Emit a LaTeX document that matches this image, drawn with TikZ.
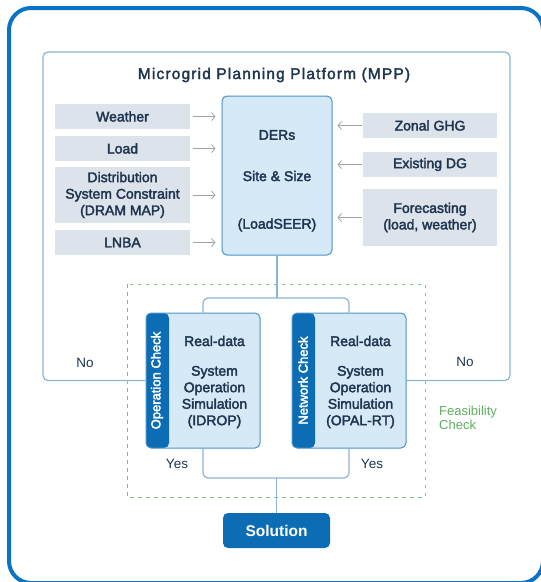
\documentclass[tikz,border=0pt]{standalone}
\usepackage{fontspec}
\setmainfont{Liberation Sans}
\newfontfamily\titlefont[LetterSpace=7.5]{Liberation Sans}
\usetikzlibrary{arrows.meta}

% medium-weight look: fill and outline the glyphs
\newcommand\thickon{\special{pdf:literal direct q 2 Tr 0.35 w}}
\newcommand\thickoff{\special{pdf:literal direct Q}}

\definecolor{frameblue}{HTML}{0A73C6}
\definecolor{navy}{HTML}{1E3550}
\definecolor{greybox}{HTML}{DDE3EA}
\definecolor{paleblue}{HTML}{D5E9F7}
\definecolor{edgeblue}{HTML}{4B92C9}
\definecolor{stripblue}{HTML}{0C6DB4}
\definecolor{linkblue}{HTML}{8CB4D5}
\definecolor{arrowgrey}{HTML}{9EA4AA}
\definecolor{feasgreen}{HTML}{5DAE5D}

\tikzset{
  heavy/.style={execute at begin node=\thickon, execute at end node=\thickoff},
  txt/.style={heavy, text=navy, font=\fontsize{14}{16.5}\selectfont, align=center, inner sep=0pt},
  plain/.style={text=navy, font=\fontsize{13.5}{16.5}\selectfont, inner sep=0pt},
  inbox/.style={txt, fill=greybox, minimum width=135pt, minimum height=25pt},
  derbox/.style={fill=paleblue, draw=edgeblue, line width=1pt, rounded corners=5pt,
    minimum width=110pt, minimum height=159pt, inner sep=0pt},
  checkbox/.style={fill=paleblue, draw=edgeblue, line width=1pt, rounded corners=5pt,
    minimum width=114pt, minimum height=135pt, inner sep=0pt,
    path picture={\fill[stripblue] (path picture bounding box.south west)
      rectangle ([xshift=23pt]path picture bounding box.north west);}},
  striplabel/.style={heavy, rotate=90, text=white, font=\fontsize{13}{15}\selectfont, inner sep=0pt},
  feed/.style={draw=arrowgrey, line width=0.8pt, -{Straight Barb[length=3.5pt,width=8pt]}},
  link/.style={draw=linkblue, line width=1.2pt, rounded corners=5pt},
}

\begin{document}
\begin{tikzpicture}[x=1pt,y=-1pt]
\useasboundingbox (0,0) rectangle (541,582);
\clip (0,0) rectangle (541,582);

% outer frame, running off the right and bottom edges
\draw[frameblue, line width=4pt, rounded corners=22pt] (9,8) rectangle (543,583);

% planning platform
\node[heavy, text=navy, font=\titlefont\fontsize{15.5}{18}\selectfont, inner sep=0pt] (title) at (274,75)
  {Microgrid Planning Platform (MPP)};

% inputs on the left
\node[inbox] (weather) at (122.5,116.5) {Weather};
\node[inbox] (load) at (122.5,148.5) {Load};
\node[inbox, minimum height=56pt] (dsc) at (122.5,195) {Distribution\\System Constraint\\(DRAM MAP)};
\node[inbox] (lnba) at (122.5,242.5) {LNBA};

% central sizing engine
\node[derbox] (ders) at (277,175.5) {};
\node[txt] (dersA) at (277,135) {DERs};
\node[txt] (dersB) at (277,176) {Site \& Size};
\node[txt] (dersC) at (277,225) {(LoadSEER)};

% inputs on the right
\node[inbox, minimum width=134pt] (ghg) at (430,125.5) {Zonal GHG};
\node[inbox, minimum width=134pt] (dg) at (430,164.5) {Existing DG};
\node[inbox, minimum width=134pt, minimum height=57pt] (fc) at (430,217.5) {Forecasting\\(load, weather)};

% feed arrows
\coordinate (lw) at (ders.west |- weather.east);
\coordinate (ll) at (ders.west |- load.east);
\coordinate (ld) at (ders.west |- dsc.east);
\coordinate (ln) at (ders.west |- lnba.east);
\draw[feed, shorten <=3pt, shorten >=6pt] (weather.east) -- (lw);
\draw[feed, shorten <=3pt, shorten >=6pt] (load.east) -- (ll);
\draw[feed, shorten <=3pt, shorten >=6pt] (dsc.east) -- (ld);
\draw[feed, shorten <=3pt, shorten >=6pt] (lnba.east) -- (ln);
\coordinate (rg) at (ders.east |- ghg.west);
\coordinate (rd) at (ders.east |- dg.west);
\coordinate (rf) at (ders.east |- fc.west);
\draw[feed, shorten <=1pt, shorten >=5pt] (ghg.west) -- (rg);
\draw[feed, shorten <=1pt, shorten >=5pt] (dg.west) -- (rd);
\draw[feed, shorten <=1pt, shorten >=5pt] (fc.west) -- (rf);

% feasibility check region
\draw[feasgreen!75, line width=0.9pt, dash pattern=on 3.5pt off 4.5pt] (127,284) rectangle (425,497);
\node[text=feasgreen, font=\fontsize{13}{14}\selectfont, align=left, anchor=west, inner sep=0pt]
  (feas) at (439,418) {Feasibility\\Check};

% simulation checks
\node[checkbox] (op) at (203,380.5) {};
\node[checkbox] (net) at (349,380.5) {};
\node[striplabel] (opl) at ([xshift=11.5pt]op.west) {Operation Check};
\node[striplabel] (netl) at ([xshift=11.5pt]net.west) {Network Check};
\node[txt] (opA) at (214.5,341) {Real-data};
\node[txt] (opB) at (214.5,397) {System\\Operation\\Simulation\\(IDROP)};
\node[txt] (netA) at (360.5,341) {Real-data};
\node[txt] (netB) at (360.5,397) {System\\Operation\\Simulation\\(OPAL-RT)};

% platform boundary, closed by the two checks
\draw[link] (op.west) -- (43,380.5) -- (43,52) -- (510,52) -- (510,380.5) -- (net.east);
\node[plain] (noL) at (85,363) {No};
\node[plain] (noR) at (465,362) {No};

% fork from the sizing engine to both checks
\coordinate (fork) at (277,298);
\draw[link] (ders.south) -- (fork);
\draw[link] (op.north) |- (fork) -| (net.north);

% result
\node[fill=stripblue, rounded corners=5pt, minimum width=107pt, minimum height=35pt,
  text=white, font=\bfseries\fontsize{15.5}{18}\selectfont, inner sep=0pt] (sol) at (276.5,530.5) {Solution};
\coordinate (join) at (276.5,478);
\draw[link] (op.south) |- (join) -| (net.south);
\draw[link] (join) -- (sol.north);
\node[plain] (yesL) at (177,464) {Yes};
\node[plain] (yesR) at (372,464) {Yes};
\end{tikzpicture}
\end{document}
